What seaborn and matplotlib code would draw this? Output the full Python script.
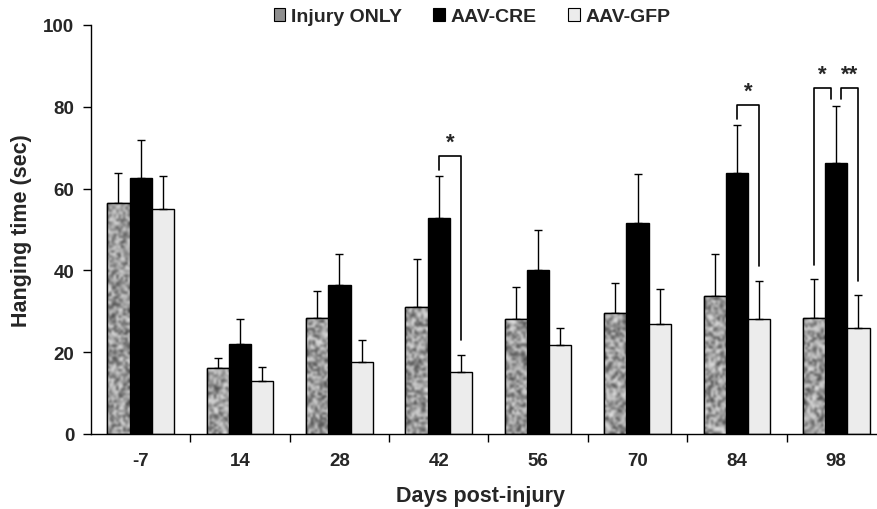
import numpy as np
import pandas as pd
import matplotlib
matplotlib.use("Agg")
import matplotlib.pyplot as plt
from matplotlib.patches import Patch, Rectangle
import seaborn as sns

# data
days = ["-7", "14", "28", "42", "56", "70", "84", "98"]
groups = ["Injury ONLY", "AAV-CRE", "AAV-GFP"]
injury = [56.5, 16.2, 28.3, 31.0, 28.0, 29.5, 33.8, 28.3]
injury_err = [7.3, 2.3, 6.7, 11.7, 8.0, 7.3, 10.2, 9.5]
cre = [62.5, 22.0, 36.5, 52.7, 40.0, 51.5, 63.8, 66.3]
cre_err = [9.5, 6.0, 7.5, 10.3, 10.0, 12.0, 11.7, 14.0]
gfp = [55.0, 13.0, 17.5, 15.2, 21.8, 27.0, 28.2, 26.0]
gfp_err = [8.0, 3.5, 5.5, 4.2, 4.2, 8.5, 9.3, 8.0]

# significance: day, pair of groups, label
sig_day = ["42", "84", "98", "98"]
sig_pair = [(1, 2), (1, 2), (0, 1), (1, 2)]
sig_label = ["*", "*", "*", "**"]

df = pd.DataFrame({
    "day": days * 3,
    "group": [g for g in groups for _ in days],
    "value": injury + cre + gfp,
})
errs = [injury_err, cre_err, gfp_err]
vals = [injury, cre, gfp]

sns.set_style("white")
plt.rcParams["font.family"] = ["Liberation Sans", "DejaVu Sans"]
plt.rcParams["font.weight"] = "bold"

colors = ["#a2a2a2", "#000000", "#ececec"]
fig = plt.figure(figsize=(8.77, 5.10), dpi=100)
ax = fig.add_axes([91 / 877, 75 / 510, 786 / 877, 409 / 510])

sns.barplot(data=df, x="day", y="value", hue="group", order=days,
            hue_order=groups, palette=colors, errorbar=None, width=0.67,
            edgecolor="black", linewidth=1, saturation=1, legend=False, ax=ax)

# mottled texture on the Injury ONLY bars
rng = np.random.default_rng(3)
for p in ax.containers[0]:
    x, y, w, h = p.get_x(), p.get_y(), p.get_width(), p.get_height()
    rows = max(int(h * 1.7), 4)
    tex = rng.random((rows, 10)) ** 0.8
    tex = 0.25 + 0.65 * tex
    im = ax.imshow(tex, extent=[x, x + w, y, y + h], cmap="gray", vmin=0, vmax=1,
                   aspect="auto", interpolation="bicubic", zorder=p.get_zorder() + 0.1)
    im.set_clip_path(p)
    ax.add_patch(Rectangle((x, y), w, h, fc="none", ec="black", lw=1,
                           zorder=p.get_zorder() + 0.2))

# upper error bars
centers = []
for i, cont in enumerate(ax.containers[:3]):
    xs = [p.get_x() + p.get_width() / 2 for p in cont]
    centers.append(xs)
    ax.errorbar(xs, vals[i], yerr=[np.zeros(len(xs)), errs[i]], fmt="none",
                ecolor="black", elinewidth=1, capsize=3.2, capthick=1, zorder=1)

# significance brackets
tops = [[v + e for v, e in zip(vals[i], errs[i])] for i in range(3)]
for d, (a, b), lab in zip(sig_day, sig_pair, sig_label):
    k = days.index(d)
    xa, xb = centers[a][k], centers[b][k]
    ya, yb = tops[a][k], tops[b][k]
    if d == "98":
        top = max(tops[1][k], tops[0][k]) + 4.3
        if a == 1:
            xa += 0.05
        if b == 1:
            xb -= 0.05
    else:
        top = max(ya, yb) + 5
    ax.plot([xa, xa, xb, xb], [ya + (1.5 if a == 1 else 3.5), top, top,
                               yb + (1.5 if b == 1 else 3.5)],
            color="black", lw=1.2, zorder=5)
    ax.text((xa + xb) / 2, top + 0.8, lab, ha="center", va="bottom",
            fontsize=16, fontweight="bold")

ax.set_ylim(0, 100)
ax.set_xlim(-0.5, 7.41)
ax.set_yticks([0, 20, 40, 60, 80, 100])
ax.set_xticks(range(len(days)))
ax.set_xticklabels(days)
ax.set_xticks(np.arange(0.5, 7, 1), minor=True)
ax.tick_params(axis="x", which="major", length=0, pad=13, labelsize=13.5)
ax.tick_params(axis="x", which="minor", length=6, width=1, direction="out", color="black", bottom=True)
ax.tick_params(axis="y", length=6, width=1, direction="out", pad=6, labelsize=13.5, left=True, color="black")
for t in ax.get_xticklabels() + ax.get_yticklabels():
    t.set_fontweight("bold")

sns.despine(ax=ax)
for s in ["left", "bottom"]:
    ax.spines[s].set_color("black")
    ax.spines[s].set_linewidth(1)

ax.set_ylabel("Hanging time (sec)", fontsize=15.5, fontweight="bold")
ax.yaxis.set_label_coords(-0.075, 0.5)
ax.set_xlabel("Days post-injury", fontsize=15.5, fontweight="bold")
ax.xaxis.set_label_coords(0.495, -0.125)

handles = [Patch(facecolor=c, edgecolor="black", lw=0.8) for c in ["#8f8f8f", "#000000", "#ececec"]]
ax.legend(handles, groups, loc="center", bbox_to_anchor=(0.485, 1.02), ncol=3,
          frameon=False, fontsize=14, handlelength=0.6, handleheight=0.6,
          handletextpad=0.3, columnspacing=1.6, borderaxespad=0)

plt.savefig("out.png", dpi=100)
